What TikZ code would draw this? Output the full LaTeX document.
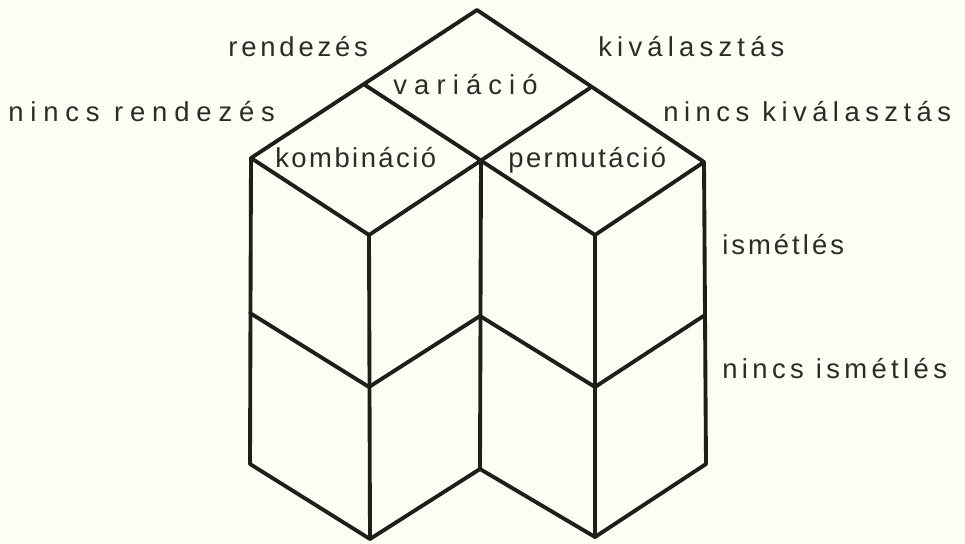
\documentclass[tikz,border=0pt]{standalone}
\usepackage{fontspec}
\setmainfont{Liberation Sans}
\usepackage{xcolor}
\usepackage{tikz}
\definecolor{paperwhite}{RGB}{252, 253, 243}
\definecolor{inkdark}{RGB}{28, 32, 26}
\definecolor{textdark}{RGB}{40, 45, 38}
\newcommand{\spaced}[1]{\fontsize{15.6}{18}\selectfont\addfontfeature{LetterSpace=#1}}

\begin{document}
\begin{tikzpicture}[x=0.02cm, y=-0.02cm]
    % Styles
    \tikzstyle{edge} = [line width=2.2pt, draw=inkdark, line join=round, line cap=round]
    \tikzstyle{txt} = [inner sep=0pt, anchor=base west, text=textdark]

    % Frame
    \fill [paperwhite] (0,0) rectangle (965,544);
    \useasboundingbox (0,0) rectangle (965,544);

    % Corners
    \coordinate (top) at (477,10);
    \coordinate (vl) at (365,85);
    \coordinate (vr) at (590,88);
    \coordinate (mid) at (481,161);
    \coordinate (lft) at (251,158);
    \coordinate (rgt) at (704,162);
    \coordinate (kb) at (369,235);
    \coordinate (pb) at (595,235);
    \coordinate (lft1) at (250,313);
    \coordinate (kb1) at (369,387);
    \coordinate (mid1) at (480,316);
    \coordinate (pb1) at (595,387);
    \coordinate (rgt1) at (705,315);
    \coordinate (lft2) at (250,464);
    \coordinate (kb2) at (370,539);
    \coordinate (mid2) at (480,469);
    \coordinate (pb2) at (595,537);
    \coordinate (rgt2) at (706,464);

    % Top faces
    \draw [edge] (lft) -- (top) -- (rgt);
    \draw [edge] (vl) -- (pb) -- (rgt);
    \draw [edge] (vr) -- (kb) -- (lft);

    % Sides
    \draw [edge] (lft) -- (lft2) -- (kb2) -- (mid2) -- (pb2) -- (rgt2) -- (rgt);
    \draw [edge] (lft1) -- (kb1) -- (mid1) -- (pb1) -- (rgt1);
    \draw [edge] (kb) -- (kb2);
    \draw [edge] (mid) -- (mid2);
    \draw [edge] (pb) -- (pb2);

    % Texts
    \node [txt, font=\spaced{14}] (rend) at (228,57) {rendezés};
    \node [txt, font=\spaced{19}] (kival) at (598,57) {kiválasztás};
    \node [txt, font=\spaced{25}] (nrend) at (8,122) {nincs rendezés};
    \node [txt, font=\spaced{20}] (nkival) at (663,122) {nincs kiválasztás};
    \node [txt, font=\spaced{26}] (vari) at (393,95) {variáció};
    \node [txt, font=\spaced{9}] (komb) at (275,168) {kombináció};
    \node [txt, font=\spaced{9}] (perm) at (508,168) {permutáció};
    \node [txt, font=\spaced{11}] (ism) at (722,255) {ismétlés};
    \node [txt, font=\spaced{16}] (nism) at (722,378) {nincs ismétlés};
\end{tikzpicture}
\end{document}
